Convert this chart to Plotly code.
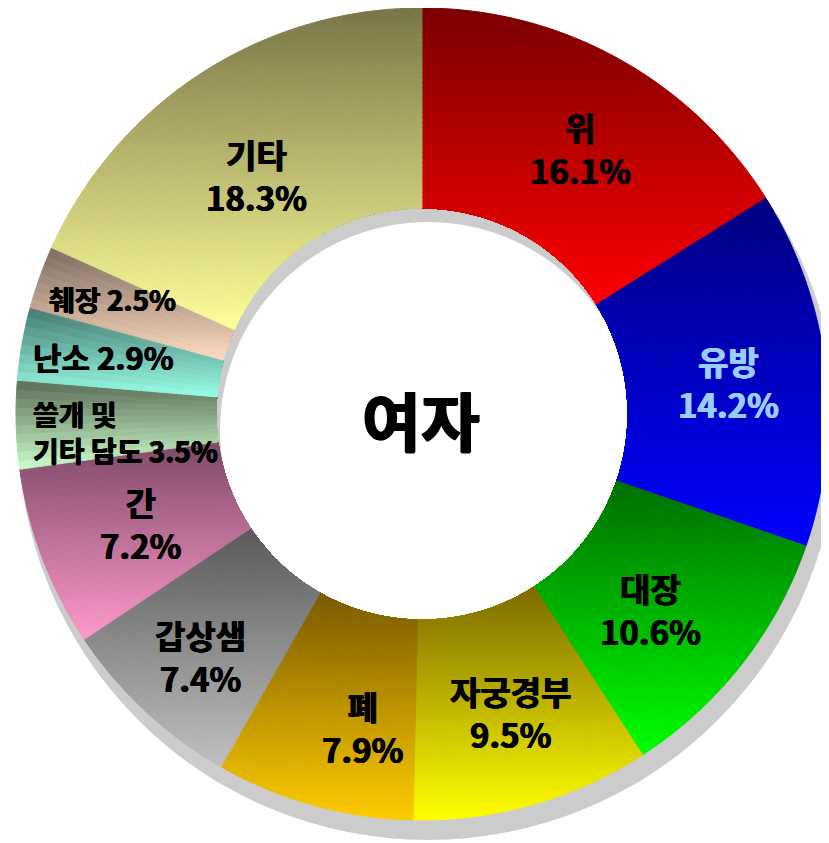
import math
import plotly.graph_objects as go

# ---------------- data ----------------
categories = ["위", "유방", "대장", "자궁경부", "폐", "갑상샘", "간",
              "쓸개 및 기타 담도", "난소", "췌장", "기타"]
values = [16.1, 14.2, 10.6, 9.5, 7.9, 7.4, 7.2, 3.5, 2.9, 2.5, 18.3]
center_title = "여자"

# ---------------- styles ----------------
top_colors = ["#7a0000", "#000080", "#006e00", "#7d6a00", "#7a5a00", "#5a5a5a",
              "#7f4a68", "#5b6d58", "#467a72", "#7d6c60", "#797548"]
bottom_colors = ["#ff0000", "#0000ff", "#00ff00", "#ffff00", "#ffcc00", "#c0c0c0",
                 "#ff99cc", "#ccffcc", "#99ffe6", "#ffdcc0", "#ffff99"]
label_colors = ["#000000", "#99ccff", "#000000", "#000000", "#000000", "#000000",
                "#000000", "#000000", "#000000", "#000000", "#000000"]
label_radius = [309, 308, 301, 311, 319, 328, 302, 297, 324, 330, 290]
label_nudge = [2, 0.7, 2.5, -0.8, -4.8, -0.6, -0.5, -2, 0.2, 0.7, -1.9]

W, H = 829, 843
OFF = 8                      # page margin of the html body
CX, CY = 422 - OFF, 414 - OFF
R_OUT, R_IN = 406, 206
SH_CX, SH_CY, SH_R, SH_r = 428 - OFF, 430 - OFF, 410, 208
N_BANDS = 40
FONT = "Noto Sans CJK KR, sans-serif"


def hex2rgb(h):
    h = h.lstrip("#")
    return tuple(int(h[i:i + 2], 16) for i in (0, 2, 4))


def lerp(c1, c2, t):
    a, b = hex2rgb(c1), hex2rgb(c2)
    t = min(max(t, 0.0), 1.0)
    return "rgb(%d,%d,%d)" % tuple(round(a[i] + (b[i] - a[i]) * t) for i in range(3))


def heavy(color, w=0.6):
    return (f"{w}px 0 0 {color}, -{w}px 0 0 {color}, "
            f"0 {w * 0.6:.2f}px 0 {color}")


total = sum(values)
starts, ends = [], []
acc = 0.0
for v in values:
    starts.append(acc / total * 360)
    acc += v
    ends.append(acc / total * 360)

# vertical extent of each slice (for the top->bottom gradient)
ext = []
for s, e in zip(starts, ends):
    ys = []
    for k in range(201):
        th = math.radians(s + (e - s) * k / 200)
        for rr in (R_IN, R_OUT):
            ys.append(CY - rr * math.cos(th))
    ext.append((min(ys), max(ys)))

# sub-division of every slice, used only to paint the gradient
sub_vals, sub_meta = [], []
for i, v in enumerate(values):
    k = max(3, round(v / 0.35))
    for j in range(k):
        sub_vals.append(v / k)
        sub_meta.append((i, starts[i] + (ends[i] - starts[i]) * (j + 0.5) / k))

fig = go.Figure()
dr = (R_OUT - R_IN) / N_BANDS
for b in range(N_BANDS):
    rb = R_IN + dr * (N_BANDS - b)
    rho = R_IN + dr * (N_BANDS - b - 0.5)
    cols = []
    for i, th in sub_meta:
        y = CY - rho * math.cos(math.radians(th))
        y0, y1 = ext[i]
        cols.append(lerp(top_colors[i], bottom_colors[i], (y - y0) / (y1 - y0)))
    fig.add_trace(go.Pie(
        values=sub_vals, sort=False, direction="clockwise", rotation=0,
        hole=R_IN / rb,
        domain=dict(x=[(CX - rb) / W, (CX + rb) / W],
                    y=[1 - (CY + rb) / H, 1 - (CY - rb) / H]),
        marker=dict(colors=cols, line=dict(color=cols, width=1)),
        textinfo="none", hoverinfo="skip", showlegend=False,
    ))

# the real data trace (transparent, on top, for hover)
fig.add_trace(go.Pie(
    labels=categories, values=values, sort=False, direction="clockwise", rotation=0,
    hole=R_IN / R_OUT,
    domain=dict(x=[(CX - R_OUT) / W, (CX + R_OUT) / W],
                y=[1 - (CY + R_OUT) / H, 1 - (CY - R_OUT) / H]),
    marker=dict(colors=["rgba(0,0,0,0)"] * len(values)),
    textinfo="none", showlegend=False,
    hovertemplate="%{label}: %{value}%<extra></extra>",
))

# labels
annotations = []
for i, (name, v) in enumerate(zip(categories, values)):
    th = math.radians((starts[i] + ends[i]) / 2 + label_nudge[i])
    px = CX + label_radius[i] * math.sin(th)
    py = CY - label_radius[i] * math.cos(th)
    pct = f"{v:.1f}%"
    align = "center"
    if v >= 5:
        txt = f"{name}<br>{pct}"
        size = 33
    elif name == "난소":
        txt = f"{name} {pct}"
        size = 31
    elif name == "쓸개 및 기타 담도":
        txt = f"쓸개 및<br>기타 담도 {pct}"
        size = 28
        align = "left"
    else:
        txt = f"{name} {pct}"
        size = 28
    annotations.append(dict(
        x=px / W, y=1 - py / H, xref="paper", yref="paper",
        text=txt, showarrow=False, xanchor="center", yanchor="middle", align=align,
        font=dict(family=FONT, size=size, color=label_colors[i], weight="bold",
                  shadow=heavy(label_colors[i])),
    ))

annotations.append(dict(
    x=(CX - 1) / W, y=1 - (CY + 4) / H, xref="paper", yref="paper",
    text=center_title, showarrow=False,
    font=dict(family=FONT, size=64, color="#000000", weight="bold",
              shadow=heavy("#000000", 1.0)),
))

shapes = [
    dict(type="circle", xref="paper", yref="paper", layer="below",
         x0=(SH_CX - SH_R) / W, x1=(SH_CX + SH_R) / W,
         y0=1 - (SH_CY + SH_R) / H, y1=1 - (SH_CY - SH_R) / H,
         fillcolor="#cccccc", line=dict(width=0)),
    dict(type="circle", xref="paper", yref="paper", layer="below",
         x0=(SH_CX - SH_r) / W, x1=(SH_CX + SH_r) / W,
         y0=1 - (SH_CY + SH_r) / H, y1=1 - (SH_CY - SH_r) / H,
         fillcolor="#ffffff", line=dict(width=0)),
]

fig.update_layout(
    width=W, height=H, margin=dict(l=0, r=0, t=0, b=0),
    paper_bgcolor="#ffffff", plot_bgcolor="#ffffff",
    showlegend=False, annotations=annotations, shapes=shapes,
)

fig.write_html("out.html")
